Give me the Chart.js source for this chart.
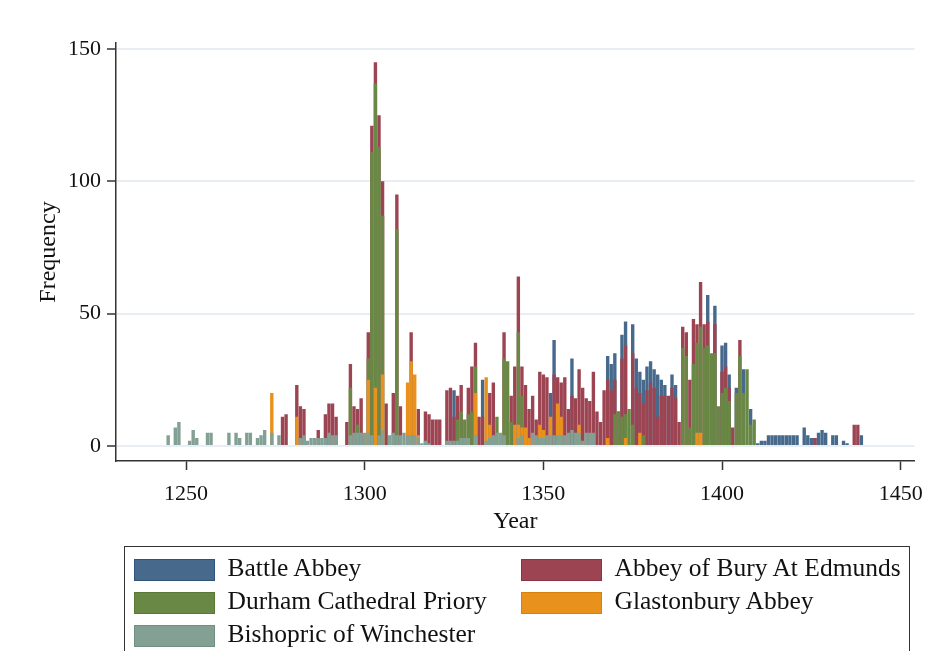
<!DOCTYPE html>
<html>
<head>
<meta charset="utf-8">
<title>Frequency by year</title>
<script src="https://cdn.jsdelivr.net/npm/chart.js@4.4.1/dist/chart.umd.min.js"></script>
<style>
    body { margin: 0; background: #fff; }
    #wrap { position: relative; width: 934px; height: 651px; overflow: hidden; }
    #legend {
        position: absolute; left: 124px; top: 546px; width: 784px; height: 130px;
        border: 1.5px solid #333; font-family: "Liberation Serif", serif; font-size: 25.5px; color: #111;
    }
    .item { position: absolute; display: flex; align-items: center; white-space: nowrap; }
    .swatch { width: 79px; height: 20px; border: 1.5px solid; margin-right: 13px; }
</style>
</head>
<body>
<div id="wrap">
    <canvas id="chart" width="934" height="651"></canvas>
    <div id="legend"></div>
</div>
<script>
// DATA  (year, count)
const battleAbbey = [
    [1325, 21], [1333, 25], [1352, 20], [1353, 40], [1358, 33], [1368, 34], [1369, 31], [1370, 35],
    [1372, 42], [1373, 47], [1375, 46], [1376, 33], [1377, 28], [1378, 25], [1379, 30], [1380, 32],
    [1381, 29], [1382, 27], [1383, 25], [1384, 23], [1386, 27], [1387, 23], [1396, 57], [1398, 53],
    [1400, 38], [1401, 39], [1402, 27], [1404, 22], [1406, 29], [1408, 14], [1410, 1], [1411, 2],
    [1412, 2], [1413, 4], [1414, 4], [1415, 4], [1416, 4], [1417, 4], [1418, 4], [1419, 4],
    [1420, 4], [1421, 4], [1423, 7], [1424, 4], [1425, 3], [1426, 3], [1427, 5], [1428, 6],
    [1429, 5], [1431, 4], [1432, 4], [1434, 2], [1435, 1], [1439, 4],
];
const buryAbbey = [
    [1277, 11], [1278, 12], [1281, 23], [1282, 15], [1283, 14], [1287, 6], [1289, 12], [1290, 16],
    [1291, 16], [1292, 11], [1295, 9], [1296, 31], [1297, 15], [1298, 14], [1299, 18], [1301, 43],
    [1302, 121], [1303, 145], [1304, 125], [1305, 100], [1306, 16], [1308, 20], [1309, 95], [1310, 15],
    [1313, 43], [1315, 14], [1317, 13], [1318, 12], [1319, 10], [1320, 10], [1321, 10], [1323, 21],
    [1324, 22], [1325, 11], [1326, 19], [1327, 23], [1329, 22], [1330, 30], [1331, 39], [1332, 11],
    [1333, 11], [1335, 20], [1336, 24], [1339, 43], [1341, 19], [1342, 30], [1343, 64], [1344, 30],
    [1345, 23], [1346, 14], [1347, 19], [1348, 10], [1349, 28], [1350, 27], [1351, 26], [1352, 11],
    [1353, 27], [1354, 26], [1355, 24], [1356, 26], [1357, 14], [1358, 19], [1359, 18], [1360, 29],
    [1361, 22], [1362, 18], [1363, 17], [1364, 28], [1365, 13], [1366, 9], [1367, 21], [1368, 25],
    [1369, 21], [1370, 25], [1371, 13], [1372, 33], [1373, 38], [1375, 35], [1376, 22], [1377, 20],
    [1378, 16], [1379, 21], [1380, 24], [1381, 22], [1382, 11], [1383, 19], [1384, 19], [1385, 19],
    [1386, 22], [1387, 18], [1388, 9], [1389, 45], [1390, 43], [1391, 25], [1392, 48], [1393, 46],
    [1394, 62], [1395, 46], [1396, 47], [1398, 46], [1400, 28], [1401, 30], [1402, 22], [1403, 7],
    [1405, 40], [1426, 3], [1437, 8], [1438, 8],
];
const durhamPriory = [
    [1296, 22], [1298, 8], [1301, 33], [1302, 111], [1303, 137], [1304, 113], [1305, 87], [1309, 82],
    [1326, 10], [1327, 13], [1328, 10], [1329, 12], [1330, 13], [1331, 30], [1337, 11], [1339, 33],
    [1340, 32], [1341, 9], [1343, 43], [1344, 19], [1370, 12], [1371, 13], [1372, 11], [1373, 12],
    [1374, 14], [1375, 8], [1378, 4], [1389, 37], [1390, 34], [1391, 7], [1392, 31], [1393, 39],
    [1394, 45], [1395, 37], [1396, 38], [1397, 35], [1398, 35], [1399, 15], [1400, 20], [1401, 22],
    [1402, 17], [1404, 20], [1405, 34], [1406, 20], [1407, 29], [1408, 8], [1409, 10],
];
const glastonburyAbbey = [
    [1274, 20], [1281, 11], [1301, 25], [1303, 22], [1305, 27], [1312, 24], [1313, 32], [1314, 27],
    [1315, 4], [1331, 20], [1334, 26], [1335, 8], [1342, 8], [1343, 8], [1344, 7], [1345, 7],
    [1346, 3], [1349, 8], [1350, 6], [1352, 11], [1354, 16], [1355, 11], [1360, 8], [1368, 3],
    [1373, 3], [1377, 5], [1393, 5], [1394, 5],
];
const winchester = [
    [1245, 4], [1247, 7], [1248, 9], [1251, 2], [1252, 6], [1253, 3], [1256, 5], [1257, 5],
    [1262, 5], [1264, 5], [1265, 3], [1267, 5], [1268, 5], [1270, 3], [1271, 4], [1272, 6],
    [1274, 5], [1276, 4], [1282, 3], [1283, 4], [1284, 2], [1285, 3], [1286, 3], [1287, 3],
    [1288, 3], [1289, 3], [1290, 5], [1291, 4], [1292, 4], [1296, 4], [1297, 5], [1298, 5],
    [1299, 5], [1300, 5], [1301, 5], [1302, 4], [1304, 4], [1305, 6], [1307, 4], [1308, 5],
    [1309, 4], [1310, 4], [1311, 5], [1312, 4], [1313, 4], [1314, 4], [1315, 3], [1316, 1],
    [1317, 2], [1318, 1], [1323, 2], [1324, 2], [1325, 2], [1326, 2], [1327, 3], [1328, 3],
    [1329, 3], [1331, 4], [1334, 2], [1335, 3], [1336, 4], [1337, 5], [1338, 5], [1339, 4],
    [1343, 3], [1344, 4], [1347, 5], [1348, 4], [1349, 3], [1350, 3], [1351, 4], [1352, 4],
    [1353, 4], [1354, 4], [1355, 4], [1356, 4], [1357, 5], [1358, 6], [1359, 5], [1360, 5],
    [1361, 2], [1362, 5], [1363, 5], [1364, 5],
];
const xTicks = [1250, 1300, 1350, 1400, 1450];
const yTicks = [0, 50, 100, 150];

// SERIES (legend order, drawn bottom layer first)
const series = [
    { label: "Battle Abbey", data: battleAbbey, fill: "#46698c", line: "#2f5479", layer: 5 },
    { label: "Abbey of Bury At Edmunds", data: buryAbbey, fill: "#9c4452", line: "#8a3343", layer: 4 },
    { label: "Durham Cathedral Priory", data: durhamPriory, fill: "#6a8845", line: "#5a7935", layer: 3 },
    { label: "Glastonbury Abbey", data: glastonburyAbbey, fill: "#e8911d", line: "#d98010", layer: 2 },
    { label: "Bishopric of Winchester", data: winchester, fill: "#82a093", line: "#72907f", layer: 1 },
];

Chart.defaults.font.family = "'Liberation Serif', serif";
Chart.defaults.color = "#111";

const toPoints = (pairs) => pairs.map(([year, count]) => ({ x: year, y: count }));

new Chart(document.getElementById("chart"), {
    type: "bar",
    data: {
        datasets: series.map((s) => ({
            label: s.label,
            data: toPoints(s.data),
            backgroundColor: s.fill,
            borderColor: s.line,
            borderWidth: 0,
            grouped: false,
            order: s.layer,
            barPercentage: 0.95,
            categoryPercentage: 1,
        })),
    },
    options: {
        responsive: false,
        animation: false,
        layout: { padding: { left: 0, top: 43, right: 18, bottom: 110 } },
        plugins: { legend: { display: false }, tooltip: { enabled: false } },
        scales: {
            x: {
                type: "linear",
                min: 1230.4,
                max: 1453.9,
                offset: false,
                afterBuildTicks: (s) => { s.ticks = xTicks.map((v) => ({ value: v })); },
                afterFit: (s) => { s.height = 80; },
                grid: { offset: false, drawOnChartArea: false, tickLength: 9, tickColor: "#333", tickWidth: 1.5 },
                border: { color: "#333", width: 1.5 },
                ticks: { padding: 11, maxRotation: 0, font: { size: 22 }, callback: (v) => String(v) },
                title: { display: true, text: "Year", font: { size: 24 }, padding: { top: 0, bottom: 5 } },
            },
            y: {
                min: -5.7,
                max: 152.3,
                afterBuildTicks: (s) => { s.ticks = yTicks.map((v) => ({ value: v })); },
                afterFit: (s) => { s.width = 116; },
                grid: { color: "#e8eef3", lineWidth: 2, tickLength: 9, tickColor: "#333", tickWidth: 1.5 },
                border: { color: "#333", width: 1.5 },
                ticks: { padding: 6, font: { size: 22 } },
                title: { display: true, text: "Frequency", font: { size: 24 }, padding: { top: 34, bottom: 0 } },
            },
        },
    },
});

// LEGEND (two columns, boxed)
const legend = document.getElementById("legend");
series.forEach((s, i) => {
    const item = document.createElement("div");
    item.className = "item";
    item.style.left = (i % 2 === 0 ? 8.5 : 395.5) + "px";
    item.style.top = (8 + Math.floor(i / 2) * 33) + "px";
    const sw = document.createElement("span");
    sw.className = "swatch";
    sw.style.background = s.fill;
    sw.style.borderColor = s.line;
    const txt = document.createElement("span");
    txt.textContent = s.label;
    txt.style.position = "relative";
    txt.style.top = "-2px";
    item.appendChild(sw);
    item.appendChild(txt);
    legend.appendChild(item);
});
</script>
</body>
</html>
